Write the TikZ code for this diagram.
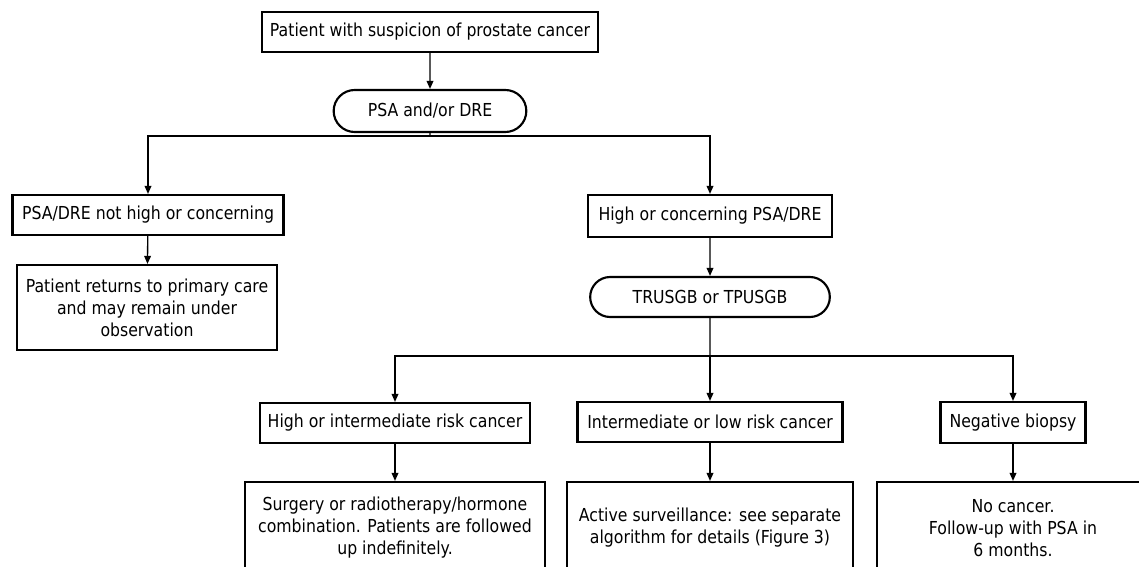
\documentclass[tikz,border=0pt]{standalone}
\usepackage{fontspec}
\setmainfont{DejaVu Sans}[FakeStretch=0.88]
\usetikzlibrary{arrows.meta,shapes.misc}
\tikzset{
  box/.style={draw, line width=1.6pt, inner sep=2pt, align=center},
  pill/.style={box, rounded rectangle},
  link/.style={line width=1pt, -{Triangle[length=6pt,width=5pt]}},
  plain/.style={line width=1pt}
}
\begin{document}
\begin{tikzpicture}[x=0.75pt,y=-0.75pt,font=\fontsize{13.4}{16.5}\selectfont]
\useasboundingbox (0,0) rectangle (1139,567);
\clip (0,0) rectangle (1139,567);
\node[box, minimum width=252pt, minimum height=30pt] (top) at (430,32) {Patient with suspicion of prostate cancer};
\node[pill, minimum width=148.5pt, minimum height=31.5pt] (psa) at (430,111) {PSA and/or DRE};
\node[box, minimum width=203.25pt, minimum height=30pt] (low) at (148,215) {PSA/DRE not high or concerning};
\node[box, minimum width=195pt, minimum height=63.75pt] (care) at (147,307.5) {Patient returns to primary care\\and may remain under\\observation};
\node[box, minimum width=183pt, minimum height=31.5pt] (high) at (710,216) {High or concerning PSA/DRE};
\node[pill, minimum width=183.75pt, minimum height=30pt] (biopsy) at (710,297) {TRUSGB or TPUSGB};
\node[box, minimum width=202.5pt, minimum height=30pt] (hirisk) at (395,423) {High or intermediate risk cancer};
\node[box, minimum width=225pt, minimum height=69pt] (treat) at (395,528) {Surgery or radiotherapy/hormone\\combination. Patients are followed\\up indefinitely.};
\node[box, minimum width=198.75pt, minimum height=30pt] (lorisk) at (710,422) {Intermediate or low risk cancer};
\node[box, minimum width=214.5pt, minimum height=69pt] (surv) at (710,528) {Active surveillance: see separate\\algorithm for details (Figure 3)};
\node[box, minimum width=108.75pt, minimum height=30.75pt] (negbx) at (1013,422.5) {Negative biopsy};
\node[box, minimum width=204pt, minimum height=69pt] (nocan) at (1013,528) {No cancer.\\Follow-up with PSA in\\6 months.};
\coordinate (split1) at (430,136);
\coordinate (split2) at (710,356);
\draw[link] (top) -- (psa);
\draw[plain] (psa) -- (split1);
\draw[link] (split1) -| (low);
\draw[link] (split1) -| (high);
\draw[link] (low) -- (care);
\draw[link] (high) -- (biopsy);
\draw[plain] (biopsy) -- (split2);
\draw[link] (split2) -| (hirisk);
\draw[link] (split2) -- (lorisk);
\draw[link] (split2) -| (negbx);
\draw[link] (hirisk) -- (treat);
\draw[link] (lorisk) -- (surv);
\draw[link] (negbx) -- (nocan);
\end{tikzpicture}
\end{document}
